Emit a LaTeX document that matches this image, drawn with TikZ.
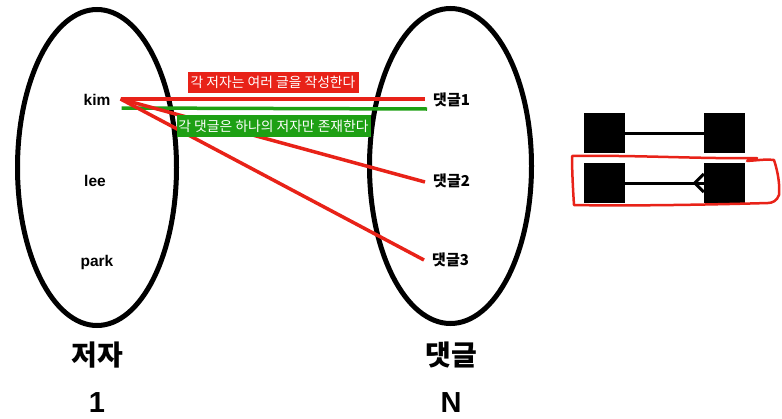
\documentclass[tikz,border=0pt]{standalone}
\usepackage{fontspec}
\setmainfont{Liberation Sans}
\newfontfamily\kr{Noto Sans CJK KR}
\usetikzlibrary{shapes.geometric}
\definecolor{myred}{RGB}{232,34,24}
\definecolor{mygreen}{RGB}{30,160,20}
\tikzset{
  set/.style={ellipse, draw=black, line width=5pt, inner sep=0pt},
  item/.style={font=\bfseries\fontsize{15.5}{15.5}\selectfont, inner sep=0pt},
  kitem/.style={font=\kr\bfseries\fontsize{15}{15}\selectfont, inner sep=0pt},
  big/.style={font=\kr\bfseries\fontsize{28}{28}\selectfont, inner sep=0pt},
  bignum/.style={font=\bfseries\fontsize{29}{29}\selectfont, inner sep=0pt},
  tag/.style={font=\kr\fontsize{13.8}{13.8}\selectfont, text=white, inner sep=0pt, minimum height=21pt, anchor=center},
  rel/.style={line width=3.5pt, line cap=butt},
  ent/.style={fill=black, minimum width=41pt, minimum height=40pt, inner sep=0pt},
  erl/.style={line width=3pt},
}
\begin{document}
\begin{tikzpicture}[x=1pt,y=-1pt]
\useasboundingbox (0,0) rectangle (782,418);
% sets
\node[set, minimum width=159pt, minimum height=316pt] (A) at (97,167.5) {};
\node[set, minimum width=162pt, minimum height=315pt] (B) at (450.5,166) {};
% items
\node[item] (kim) at (97,100) {kim};
\node[item] (lee) at (95,181) {lee};
\node[item] (park) at (97,262) {park};
\node[kitem, anchor=west] (c1) at (433,100) {댓글1};
\node[kitem, anchor=west] (c2) at (433,181) {댓글2};
\node[kitem, anchor=west] (c3) at (432,260) {댓글3};
% titles
\node[big] (ta) at (97,355) {저자};
\node[bignum] (na) at (97,403) {1};
\node[big] (tb) at (451,355) {댓글};
\node[bignum] (nb) at (451,403) {N};
% relations
\coordinate (kr) at ([xshift=10pt, yshift=1pt]kim.east);
\draw[rel, myred] (kr) -- ([xshift=-8pt]c1.west |- kr);
\draw[rel, mygreen] ([xshift=11pt, yshift=-8pt]kim.east) -- ([xshift=-6pt, yshift=-9pt]c1.west);
\draw[rel, myred] (kr) -- ([xshift=-8pt, yshift=-1pt]c2.west);
\draw[rel, myred] (kr) -- ([xshift=-8pt]c3.west);
% tags
\node[tag, fill=myred, minimum width=171pt] (t1) at (273,82.5) {각 저자는 여러 글을 작성한다};
\node[tag, fill=mygreen, minimum width=194pt, minimum height=22pt] (t2) at (273.5,126) {각 댓글은 하나의 저자만 존재한다};
% ER notation
\node[ent] (e1) at (604.5,133) {};
\node[ent] (e2) at (724.5,133) {};
\node[ent] (e3) at (604.5,183) {};
\node[ent] (e4) at (724.5,183) {};
\draw[erl] (e1.east) -- (e2.west);
\draw[erl] (e3.east) -- (e4.west);
\draw[erl, line join=miter] ([yshift=9pt]e4.west) -- ([xshift=-9pt]e4.west) -- ([yshift=-9pt]e4.west);
% hand-drawn highlight
\draw[myred, line width=2.5pt, line cap=round, line join=round]
  (572,156) .. controls (640,155) and (700,159) .. (757,158)
  (747,161) .. controls (760,160) and (768,159) .. (774,160)
  .. controls (778,172) and (780,185) .. (779,195)
  .. controls (777,201) and (772,203) .. (768,203)
  .. controls (700,205) and (620,206) .. (574,205)
  .. controls (573,190) and (572,170) .. (572,156);
\end{tikzpicture}
\end{document}
